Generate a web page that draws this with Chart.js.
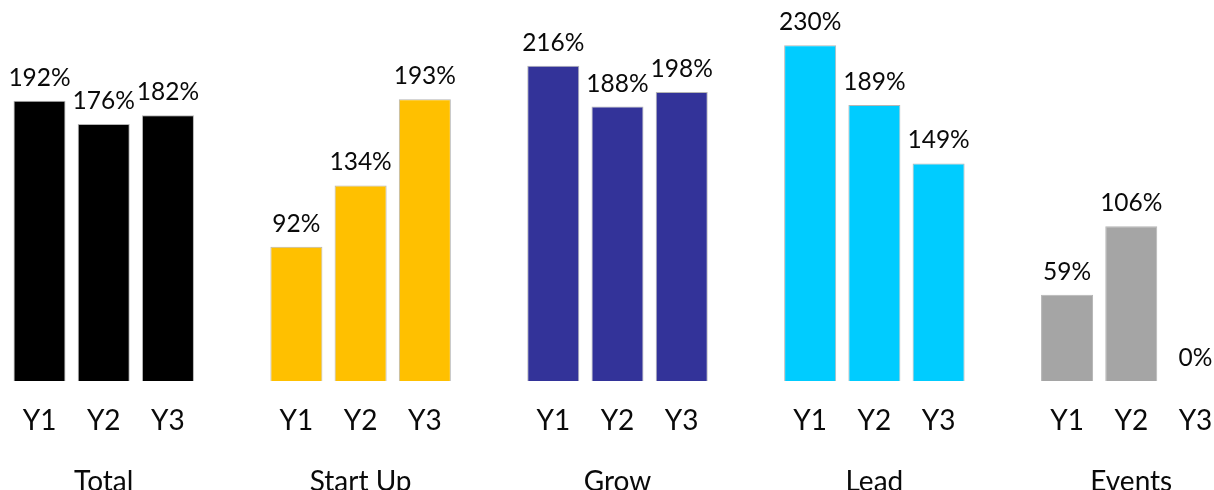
<!DOCTYPE html>
<html>
<head>
<meta charset="utf-8">
<script src="https://cdn.jsdelivr.net/npm/chart.js@4/dist/chart.umd.min.js"></script>
<style>
  html, body { margin: 0; padding: 0; background: #fff; overflow: hidden; }
  #wrap { width: 1230px; height: 490px; }
</style>
</head>
<body>
<div id="wrap"><canvas id="perfChart" width="1230" height="490"></canvas></div>
<script>
// Program groups and the years shown under each
const groupNames = ['Total', 'Start Up', 'Grow', 'Lead', 'Events'];
const yearLabels = ['Y1', 'Y2', 'Y3'];

// Percent values per group, Y1..Y3
const totalValues = [192, 176, 182];
const startUpValues = [92, 134, 193];
const growValues = [216, 188, 198];
const leadValues = [230, 189, 149];
const eventsValues = [59, 106, 0];

const groupColors = ['#000000', '#FFC000', '#333399', '#00CCFF', '#A5A5A5'];

// Flatten into one category axis, with an empty slot between groups
const groupValues = [totalValues, startUpValues, growValues, leadValues, eventsValues];
const labels = [];
const values = [];
const colors = [];
groupValues.forEach((vals, g) => {
  if (g > 0) {
    labels.push('');
    values.push(null);
    colors.push('transparent');
  }
  vals.forEach((v, i) => {
    // middle bar carries the group name two lines down
    labels.push(i === 1 ? [yearLabels[i], '', groupNames[g]] : yearLabels[i]);
    values.push(v);
    colors.push(groupColors[g]);
  });
});

// Percent label above each bar
const valueLabels = {
  id: 'valueLabels',
  afterDatasetsDraw(chart) {
    const ctx = chart.ctx;
    const meta = chart.getDatasetMeta(0);
    ctx.save();
    ctx.font = '24.5px Lato';
    ctx.fillStyle = '#0a0a0a';
    ctx.textAlign = 'center';
    ctx.textBaseline = 'alphabetic';
    meta.data.forEach((bar, i) => {
      const v = values[i];
      if (v === null) return;
      ctx.fillText(v + '%', bar.x, bar.y - 15);
    });
    ctx.restore();
  }
};

new Chart(document.getElementById('perfChart'), {
  type: 'bar',
  data: {
    labels: labels,
    datasets: [{
      data: values,
      backgroundColor: colors,
      borderColor: 'rgba(120,120,120,0.55)',
      borderWidth: ctx => (ctx.raw ? 1 : 0),
      categoryPercentage: 1,
      barPercentage: 0.81
    }]
  },
  options: {
    responsive: false,
    animation: false,
    layout: { padding: { left: 7.4, right: 2.4, top: 0, bottom: 0 } },
    plugins: {
      legend: { display: false },
      tooltip: { enabled: false }
    },
    scales: {
      x: {
        grid: { display: false, drawTicks: false },
        border: { display: false },
        ticks: {
          color: '#0a0a0a',
          padding: 25,
          maxRotation: 0,
          autoSkip: false,
          font: { family: 'Lato', size: 28, lineHeight: '30.5px' }
        },
        afterFit(scale) {
          scale.height = 109;
          scale.paddingLeft = 0;
          scale.paddingRight = 0;
        }
      },
      y: {
        display: false,
        min: 0,
        max: 261
      }
    }
  },
  plugins: [valueLabels]
});
</script>
</body>
</html>
